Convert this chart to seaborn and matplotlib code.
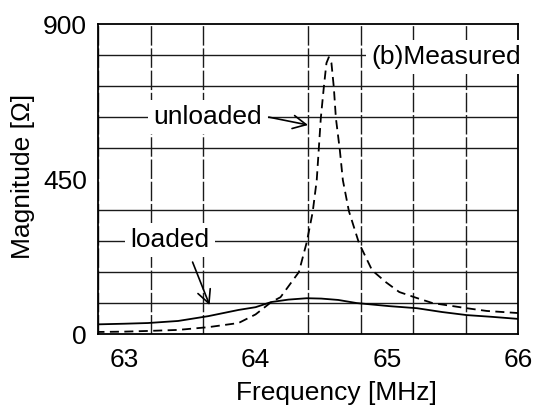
import numpy as np
import pandas as pd
import seaborn as sns
import matplotlib.pyplot as plt

# measured impedance magnitude
freq_unloaded = [62.78, 63.0, 63.18, 63.41, 63.64, 63.87, 64.0, 64.12, 64.19, 64.33,
                 64.39, 64.435, 64.466, 64.481, 64.497, 64.52, 64.54, 64.558, 64.578,
                 64.596, 64.612, 64.642, 64.665, 64.711, 64.788, 64.888, 64.995, 65.095,
                 65.226, 65.348, 65.609, 65.763, 66.0]
mag_unloaded = [6, 7, 9, 12, 20, 32, 57, 93, 107, 180,
                267, 354, 447, 534, 627, 717, 787, 804, 787,
                717, 627, 534, 447, 357, 264, 185, 150, 122,
                105, 90, 75, 67, 61]

freq_loaded = [62.78, 63.0, 63.18, 63.41, 63.64, 63.87, 64.0, 64.12, 64.25, 64.39,
               64.5, 64.63, 64.77, 65.02, 65.23, 65.42, 65.61, 65.8, 66.0]
mag_loaded = [28, 30, 32, 38, 52, 70, 78, 93, 100, 104,
              103, 99, 90, 81, 75, 64, 55, 50, 44]

x_ticks = [63, 64, 65, 66]
y_ticks = [0, 450, 900]

df = pd.concat([
    pd.DataFrame({'freq': freq_unloaded, 'mag': mag_unloaded, 'state': 'unloaded'}),
    pd.DataFrame({'freq': freq_loaded, 'mag': mag_loaded, 'state': 'loaded'}),
])

sns.set_style("white")
plt.rcParams['font.family'] = ['Liberation Sans', 'DejaVu Sans']
plt.rcParams['font.size'] = 19
for key in ['text.color', 'axes.labelcolor', 'xtick.color', 'ytick.color']:
    plt.rcParams[key] = 'black'

fig = plt.figure(figsize=(5.33, 4.16), dpi=100)
ax = fig.add_axes([0.184, 0.197, 0.788, 0.745])

sns.lineplot(data=df[df.state == 'unloaded'], x='freq', y='mag', ax=ax, sort=False,
             estimator=None, color='black', lw=1.3, linestyle=(0, (5, 3)), zorder=4)
sns.lineplot(data=df[df.state == 'loaded'], x='freq', y='mag', ax=ax, sort=False,
             estimator=None, color='black', lw=1.3, zorder=4)

ax.set_xlim(62.8, 66.0)
ax.set_ylim(0, 900)
ax.set_xticks(x_ticks)
ax.set_yticks(y_ticks)
ax.set_xticks(np.arange(62.8, 66.01, 0.4), minor=True)
ax.set_yticks(np.arange(0, 901, 90), minor=True)
ax.tick_params(which='minor', length=0)
ax.tick_params(axis='x', which='major', direction='out', length=7, width=1.2, pad=3)
ax.tick_params(axis='y', which='major', direction='out', length=3, width=1.2, pad=5)
ax.grid(which='minor', axis='y', color='#1a1a1a', lw=1.0)
ax.grid(which='minor', axis='x', color='#1a1a1a', lw=1.0, linestyle=(0, (14, 2)))
for s in ax.spines.values():
    s.set_color('black')
    s.set_linewidth(1.3)

ax.set_xlabel('Frequency [MHz]')
ax.set_ylabel('Magnitude [Ω]')
ax.xaxis.set_label_coords(0.567, -0.15)
ax.yaxis.set_label_coords(-0.15, 0.51)

box = dict(boxstyle='square,pad=0.2', fc='white', ec='none')
ax.text(64.88, 805, '(b)Measured', ha='left', va='center', bbox=box, zorder=5, clip_on=False)
ax.text(63.637, 630, 'unloaded', ha='center', va='center', bbox=box, zorder=5)
ax.text(63.35, 273, 'loaded', ha='center', va='center', bbox=box, zorder=5)

arrow = dict(arrowstyle='->,head_length=0.5,head_width=0.25', color='black', lw=1.2,
             shrinkA=0, shrinkB=0)
ax.annotate('', xy=(64.40, 607), xytext=(64.10, 630), arrowprops=arrow, zorder=6)
ax.annotate('', xy=(63.65, 84), xytext=(63.52, 209), arrowprops=arrow, zorder=6)

plt.savefig('out.png', dpi=100)
